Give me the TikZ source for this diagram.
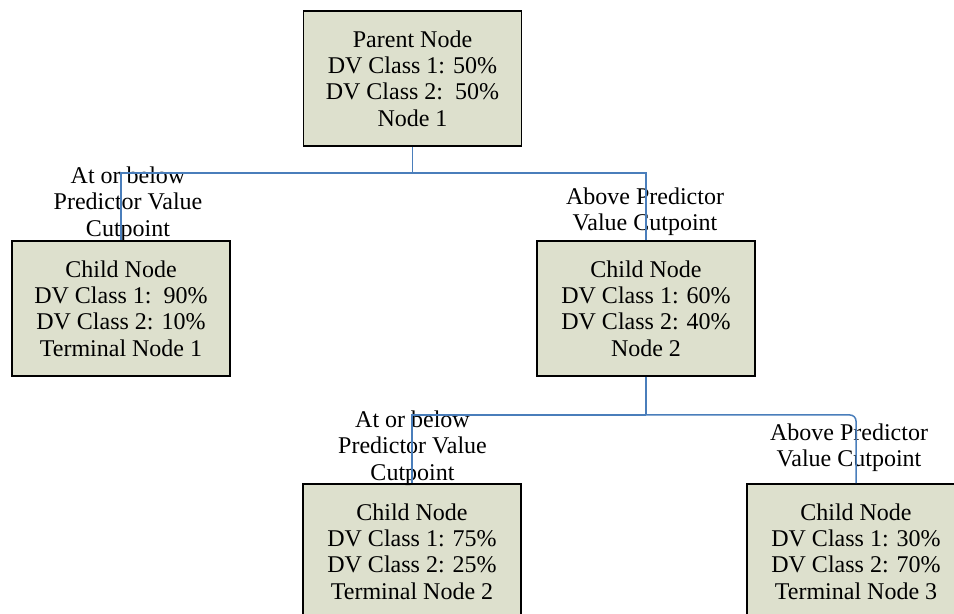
\documentclass[tikz,border=0pt]{standalone}
\usepackage{fontspec}
\setmainfont{Liberation Serif}
\definecolor{boxfill}{RGB}{221,224,205}
\definecolor{link}{RGB}{74,126,187}
\begin{document}
\begin{tikzpicture}[x=0.5pt,y=-0.5pt,
  treebox/.style={draw=black, line width=0.75pt, fill=boxfill,
    minimum width=109pt, minimum height=67.5pt, inner sep=0pt,
    align=center, font=\fontsize{12}{13.2}\selectfont},
  cutlabel/.style={align=center, inner sep=0pt,
    font=\fontsize{12}{13.2}\selectfont},
  branch/.style={draw=link, line width=0.75pt}]
\useasboundingbox (0,0) rectangle (954,614);
\clip (0,0) rectangle (954,614);

% tree nodes
\node[treebox] (root) at (412.5,78.5)
  {Parent Node\\DV Class 1: 50\%\\DV Class 2:\ \ 50\%\\Node 1};
\node[treebox] (leafa) at (121,308.5)
  {Child Node\\DV Class 1:\ \ 90\%\\DV Class 2: 10\%\\Terminal Node 1};
\node[treebox] (mid) at (646,308.5)
  {Child Node\\DV Class 1: 60\%\\DV Class 2: 40\%\\Node 2};
\node[treebox] (leafb) at (412,551.5)
  {Child Node\\DV Class 1: 75\%\\DV Class 2: 25\%\\Terminal Node 2};
\node[treebox] (leafc) at (856,551.5)
  {Child Node\\DV Class 1: 30\%\\DV Class 2: 70\%\\Terminal Node 3};

% split labels
\node[cutlabel] (lbla) at (128,204) {At or below\\Predictor Value\\Cutpoint};
\node[cutlabel] (lblb) at (645,211.5) {Above Predictor\\Value Cutpoint};
\node[cutlabel] (lblc) at (412.5,448) {At or below\\Predictor Value\\Cutpoint};
\node[cutlabel] (lbld) at (849,448) {Above Predictor\\Value Cutpoint};

% branches
\coordinate (busa) at (412.5,173);
\coordinate (busb) at (646,415);
\draw[branch] (root.south) -- (busa);
\draw[branch] (busa) -| (leafa.north);
\draw[branch] (busa) -| (mid.north);
\draw[branch] (mid.south) -- (busb);
\draw[branch] (busb) -| (leafb.north);
\draw[branch, rounded corners=3pt] (busb) -| (leafc.north);
\end{tikzpicture}
\end{document}
